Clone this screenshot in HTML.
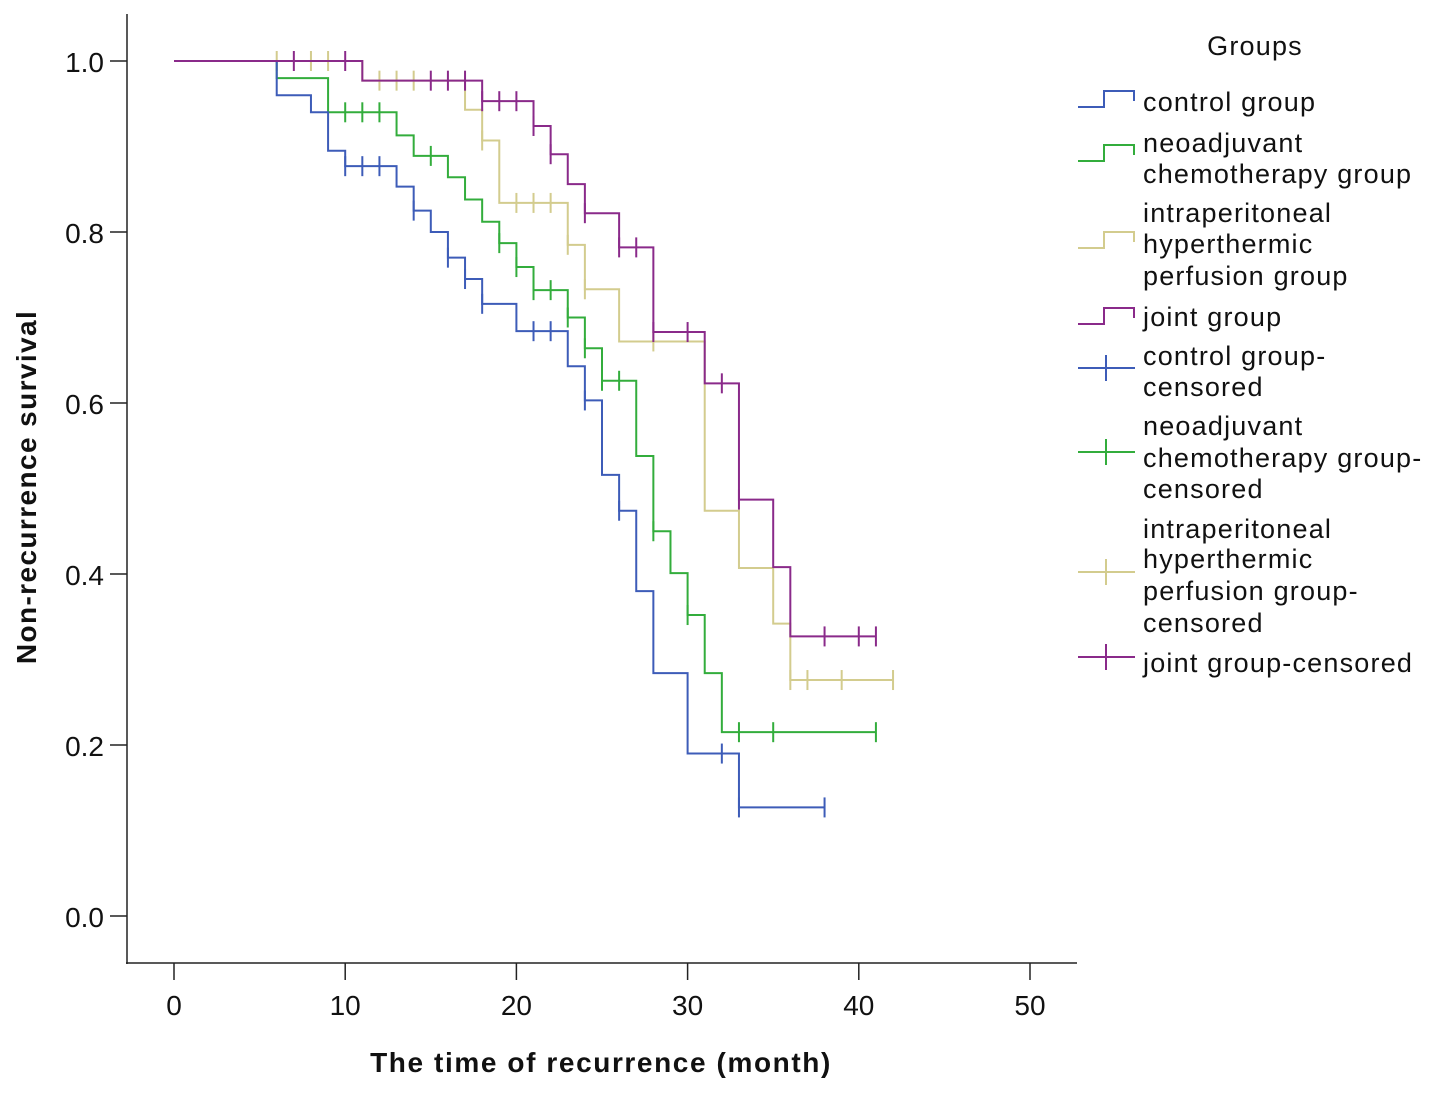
<!DOCTYPE html>
<html><head><meta charset="utf-8"><style>
html,body{margin:0;padding:0;background:#fff}
svg{display:block}
text{font-family:"Liberation Sans",sans-serif;fill:#111}
.lg{font-size:27px;letter-spacing:1.2px}
.tk{font-size:28px}
</style></head><body>
<svg id="chart" width="1441" height="1094" viewBox="0 0 1441 1094" xmlns="http://www.w3.org/2000/svg">
<g id="axes"></g>
<g id="plot"></g>
<text x="601" y="1072" text-anchor="middle" style="font-size:28px;font-weight:bold;letter-spacing:1.6px">The time of recurrence (month)</text>
<text transform="translate(36,487) rotate(-90)" text-anchor="middle" style="font-size:28px;font-weight:bold;letter-spacing:1.4px">Non-recurrence survival</text>
<text x="1255" y="55" text-anchor="middle" class="lg">Groups</text>
<g id="legend"></g>
</svg>
<script>
const xTicks=[0,10,20,30,40,50];
const yTicks=[0.0,0.2,0.4,0.6,0.8,1.0];
const groupNames=["control","neoadjuvant","hipec","joint"];
const colors=["#3d5cb8","#33ad3c","#d3cc8e","#8a2a8a"];
const controlTimes=[6,8,9,10,13,14,15,16,17,18,20,23,24,25,26,27,28,30,33];
const controlSurv=[0.96,0.94,0.895,0.877,0.853,0.825,0.80,0.77,0.745,0.716,0.684,0.643,0.603,0.516,0.474,0.38,0.284,0.19,0.127];
const controlCens=[10,11,12,14,16,17,18,21,22,24,26,32,33,38];
const neoTimes=[6,9,13,14,16,17,18,19,20,21,23,24,25,27,28,29,30,31,32];
const neoSurv=[0.98,0.94,0.913,0.889,0.864,0.838,0.812,0.787,0.759,0.732,0.70,0.664,0.626,0.538,0.45,0.401,0.352,0.284,0.215];
const neoCens=[10,11,12,15,19,20,21,22,23,24,25,26,28,30,33,35,41];
const hipecTimes=[11,17,18,19,23,24,26,31,33,35,36];
const hipecSurv=[0.977,0.943,0.907,0.834,0.785,0.733,0.672,0.474,0.407,0.342,0.276];
const hipecCens=[6,8,9,12,13,14,18,20,21,22,23,24,28,36,37,39,42];
const jointTimes=[11,18,21,22,23,24,26,28,31,33,35,36];
const jointSurv=[0.977,0.953,0.924,0.891,0.856,0.822,0.782,0.683,0.623,0.487,0.408,0.327];
const jointCens=[7,10,15,16,17,18,19,20,21,22,24,26,27,28,30,32,33,38,40,41];
const legendLabels=[["control group"],["neoadjuvant","chemotherapy group"],["intraperitoneal","hyperthermic","perfusion group"],["joint group"],["control group-","censored"],["neoadjuvant","chemotherapy group-","censored"],["intraperitoneal","hyperthermic","perfusion group-","censored"],["joint group-censored"]];

const NS="http://www.w3.org/2000/svg";
const X=t=>174+t*(1030-174)/50;
const Y=v=>916-v*855;
function el(tag,attrs,parent){const e=document.createElementNS(NS,tag);for(const k in attrs)e.setAttribute(k,attrs[k]);parent.appendChild(e);return e;}
const axes=document.getElementById('axes');
let a=el('line',{x1:127,y1:14,x2:127,y2:964,stroke:'#222','stroke-width':1.5},axes);


a=el('line',{x1:126,y1:963,x2:1077,y2:963,stroke:'#222','stroke-width':1.5},axes);


xTicks.forEach(t=>{
  const l=el('line',{x1:X(t),y1:963,x2:X(t),y2:980,stroke:'#222','stroke-width':1.5},axes);
  
  
  const tx=el('text',{x:X(t),y:1015,'text-anchor':'middle',class:'tk'},axes);tx.textContent=t;
  
  
});
yTicks.forEach(v=>{
  const l=el('line',{x1:110,y1:Y(v),x2:127,y2:Y(v),stroke:'#222','stroke-width':1.5},axes);
  
  
  const tx=el('text',{x:104,y:Y(v)+11,'text-anchor':'end',class:'tk'},axes);tx.textContent=v.toFixed(1);
  
  
});
const plot=document.getElementById('plot');
const series=[[controlTimes,controlSurv,controlCens],[neoTimes,neoSurv,neoCens],[hipecTimes,hipecSurv,hipecCens],[jointTimes,jointSurv,jointCens]];
function survAt(ts,ss,t){let s=1;for(let i=0;i<ts.length;i++){if(ts[i]<=t)s=ss[i];}return s;}
[2,1,0,3].forEach(i=>{
  const [ts,ss,cs]=series[i];
  const maxT=Math.max(ts[ts.length-1],cs[cs.length-1]);
  let d=`M${X(0)},${Y(1)}`,s=1;
  ts.forEach((t,j)=>{d+=` L${X(t)},${Y(s)} L${X(t)},${Y(ss[j])}`;s=ss[j];});
  d+=` L${X(maxT)},${Y(s)}`;
  const p=el('path',{d:d,fill:'none',stroke:colors[i],'stroke-width':2},plot);
  
  
  cs.forEach(c=>{
    const v=survAt(ts,ss,c);
    const m=el('line',{x1:X(c),y1:Y(v)-10,x2:X(c),y2:Y(v)+10,stroke:colors[i],'stroke-width':2},plot);
    
    
  });
});
const lg=document.getElementById('legend');
const lineYs=[[101],[142,173],[212,243,275],[316],[355,386],[425,457,488],[528,558,590,622],[662]];
const iconYs=[99,153,240,316,368,452,572,657];
lineYs.forEach((ys,k)=>{
  const c=colors[k%4];const iy=iconYs[k];
  let ic;
  if(k<4){ic=el('path',{d:`M1078,${iy+8} L1104,${iy+8} L1104,${iy-8} L1134,${iy-8} L1134,${iy+2}`,fill:'none',stroke:c,'stroke-width':2},lg);}
  else{ic=el('path',{d:`M1078,${iy} L1135,${iy} M1106,${iy-13} L1106,${iy+13}`,fill:'none',stroke:c,'stroke-width':2},lg);}
  
  
  ys.forEach((y,j)=>{
    const t=el('text',{x:1143,y:y+10,class:'lg'},lg);t.textContent=legendLabels[k][j];
    
    
  });
});
</script>
</body></html>
